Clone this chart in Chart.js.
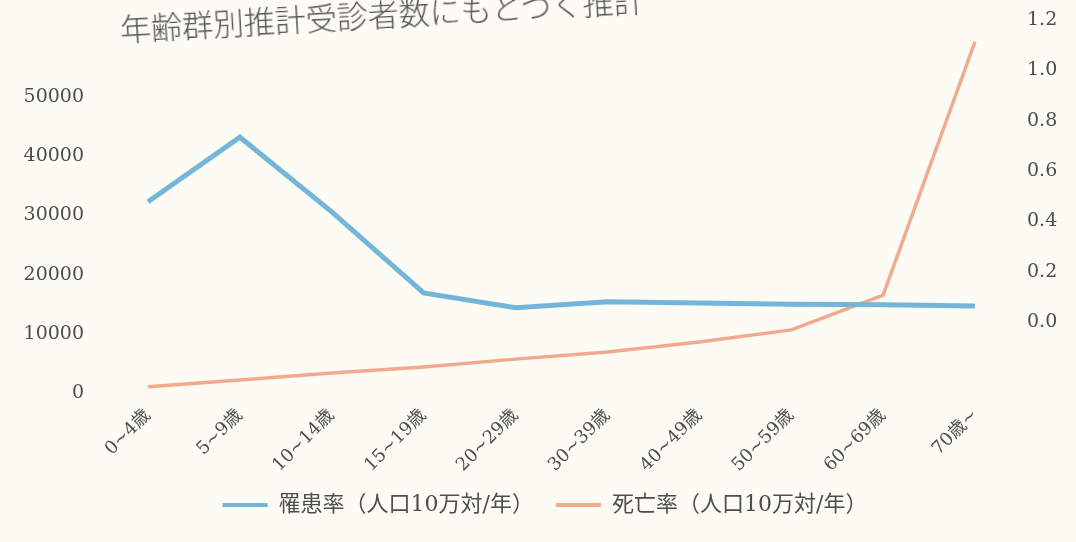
<!DOCTYPE html>
<html lang="ja">
<head>
<meta charset="utf-8">
<title>年齢群別推計受診者数</title>
<script src="https://cdn.jsdelivr.net/npm/chart.js@4/dist/chart.umd.min.js"></script>
<style>
    html, body { margin: 0; padding: 0; background: #fcfbf4; }
    .wrap { position: relative; width: 1076px; height: 542px; overflow: hidden; }
    .title {
        position: absolute; left: 120px; top: 5px;
        font: 300 31px 'Noto Sans CJK JP', sans-serif; color: #555;
        white-space: nowrap; transform: rotate(-3.2deg); transform-origin: left center;
    }
</style>
</head>
<body>
<div class="wrap">
    <div class="title">年齢群別推計受診者数にもとづく推計</div>
    <canvas id="chart"></canvas>
</div>
<script>
const ageGroups = ['0~4歳', '5~9歳', '10~14歳', '15~19歳', '20~29歳', '30~39歳', '40~49歳', '50~59歳', '60~69歳', '70歳~'];
const incidence = [32300, 43200, 30600, 16900, 14400, 15400, 15200, 15000, 14900, 14700];
const mortality = [0.02, 0.042, 0.064, 0.084, 0.109, 0.132, 0.164, 0.203, 0.315, 1.13];
const leftTicks = [0, 10000, 20000, 30000, 40000, 50000];
const rightTicks = [0.0, 0.2, 0.4, 0.6, 0.8, 1.0, 1.2];

const BLUE = '#74b6da';
const RED = '#f2a98c';
const TEXT = '#4d4d4d';
const SERIF = "'DejaVu Serif', 'Noto Sans CJK JP', serif";

const tickFont = { family: SERIF, size: 19 };

// Invisible tick marks push the value labels away from the plot without
// inflating the axis' vertical padding (ticks.padding would do that).
const spacer = (length) => ({
    display: true,
    drawOnChartArea: false,
    drawTicks: true,
    tickLength: length,
    color: 'transparent',
});

new Chart(document.getElementById('chart'), {
    type: 'line',
    data: {
        labels: ageGroups,
        datasets: [
            {
                label: '罹患率（人口10万対/年）',
                data: incidence,
                yAxisID: 'y',
                borderColor: BLUE,
                backgroundColor: BLUE,
                borderWidth: 5,
                pointRadius: 0,
                tension: 0,
            },
            {
                label: '死亡率（人口10万対/年）',
                data: mortality,
                yAxisID: 'y2',
                borderColor: RED,
                backgroundColor: RED,
                borderWidth: 3.5,
                pointRadius: 0,
                tension: 0,
            },
        ],
    },
    options: {
        responsive: true,
        maintainAspectRatio: false,
        animation: false,
        layout: { padding: { top: 20, bottom: 16, left: 14, right: 0 } },
        plugins: {
            tooltip: { enabled: false },
            legend: {
                position: 'bottom',
                labels: {
                    color: TEXT,
                    font: { family: SERIF, size: 22 },
                    boxWidth: 45,
                    boxHeight: 4,
                    padding: 22,
                    generateLabels: (chart) => Chart.defaults.plugins.legend.labels
                        .generateLabels(chart)
                        .map((item) => ({ ...item, lineWidth: 0 })),
                },
            },
        },
        scales: {
            x: {
                grid: { display: false },
                border: { display: false },
                ticks: {
                    color: TEXT,
                    font: { family: SERIF, size: 18 },
                    minRotation: 45,
                    maxRotation: 45,
                    autoSkip: false,
                    padding: 4,
                },
                afterFit: (scale) => { scale.height = 79; },
            },
            y: {
                position: 'left',
                min: 0,
                max: 63000,
                grid: spacer(60),
                border: { display: false },
                afterBuildTicks: (scale) => { scale.ticks = leftTicks.map((v) => ({ value: v })); },
                ticks: { color: TEXT, font: tickFont, padding: 4, callback: (v) => String(v) },
                afterFit: (scale) => { scale.width = 134; },
            },
            yR: {
                position: 'right',
                min: -0.282,
                max: 1.2,
                grid: spacer(48),
                border: { display: false },
                afterBuildTicks: (scale) => { scale.ticks = rightTicks.map((v) => ({ value: v })); },
                ticks: { color: TEXT, font: tickFont, padding: 4, callback: (v) => Number(v).toFixed(1) },
                afterFit: (scale) => { scale.width = 101; },
            },
            // The printed right-hand labels sit higher than the death-rate line's own zero,
            // so the line is drawn on a hidden axis whose zero matches the left axis.
            y2: {
                display: false,
                position: 'right',
                min: 0,
                max: 1.2,
            },
        },
    },
});
</script>
</body>
</html>
